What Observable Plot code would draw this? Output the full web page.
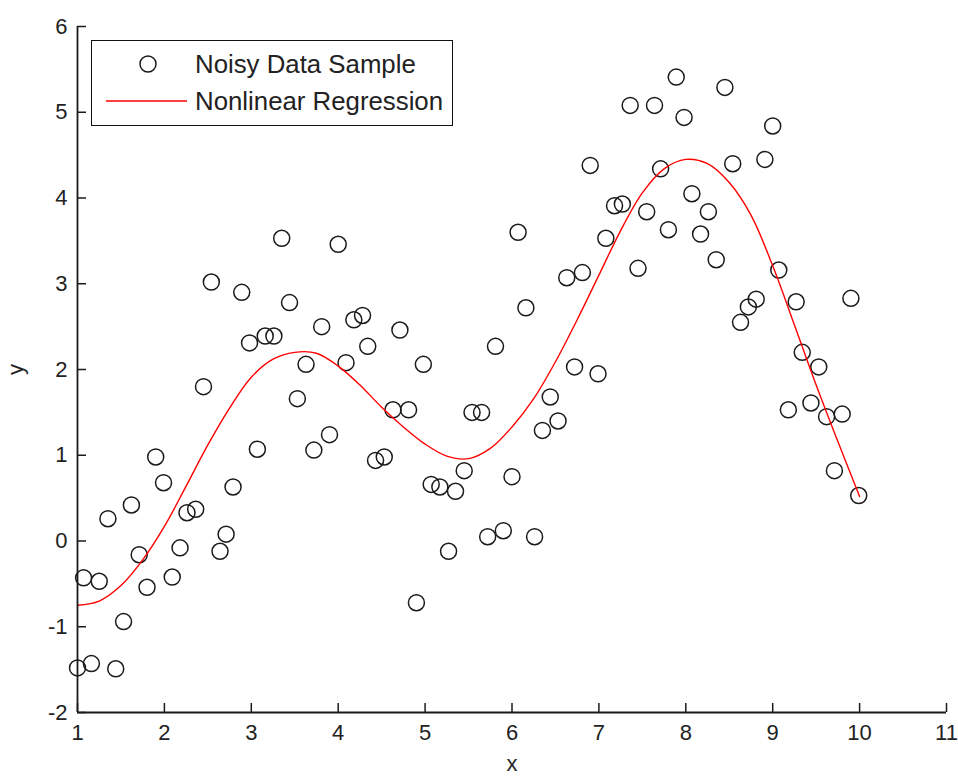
<!DOCTYPE html>
<html>
<head>
<meta charset="utf-8">
<script src="https://cdn.jsdelivr.net/npm/d3@7"></script>
<script src="https://cdn.jsdelivr.net/npm/@observablehq/plot@0.6"></script>
<style>
  html, body { margin: 0; padding: 0; background: #fff; }
  #wrap { position: relative; width: 958px; height: 778px; font-family: "Liberation Sans", Arial, sans-serif; }
  #legend { position: absolute; left: 91px; top: 40px; width: 360px; height: 84px; border: 1.5px solid #111; background: #fff; }
  #legend svg { position: absolute; left: 0; top: 0; }
  .lg { position: absolute; left: 103px; font-size: 25.8px; color: #222; line-height: 1; white-space: nowrap; }
</style>
</head>
<body>
<div id="wrap"></div>
<script>
// ---- data ----
const sampleX = [1.00,1.07,1.16,1.25,1.35,1.44,1.53,1.62,1.71,1.80,1.90,1.99,2.09,2.18,2.26,2.36,2.45,2.54,2.64,2.71,
  2.79,2.89,2.98,3.07,3.16,3.26,3.35,3.44,3.53,3.63,3.72,3.81,3.90,4.00,4.09,4.18,4.28,4.34,4.43,4.53,
  4.63,4.71,4.81,4.90,4.98,5.07,5.17,5.27,5.35,5.45,5.54,5.65,5.72,5.81,5.90,6.00,6.07,6.16,6.26,6.35,
  6.44,6.53,6.63,6.72,6.81,6.90,6.99,7.08,7.18,7.27,7.36,7.45,7.55,7.64,7.71,7.80,7.89,7.98,8.07,8.17,
  8.26,8.35,8.45,8.54,8.63,8.72,8.81,8.91,9.00,9.07,9.18,9.27,9.34,9.44,9.53,9.62,9.71,9.80,9.90,9.99];
const sampleY = [-1.48,-0.43,-1.43,-0.47,0.26,-1.49,-0.94,0.42,-0.16,-0.54,0.98,0.68,-0.42,-0.08,0.33,0.37,1.80,3.02,-0.12,0.08,
  0.63,2.90,2.31,1.07,2.39,2.39,3.53,2.78,1.66,2.06,1.06,2.50,1.24,3.46,2.08,2.58,2.63,2.27,0.94,0.98,
  1.53,2.46,1.53,-0.72,2.06,0.66,0.63,-0.12,0.58,0.82,1.50,1.50,0.05,2.27,0.12,0.75,3.60,2.72,0.05,1.29,
  1.68,1.40,3.07,2.03,3.13,4.38,1.95,3.53,3.91,3.93,5.08,3.18,3.84,5.08,4.34,3.63,5.41,4.94,4.05,3.58,
  3.84,3.28,5.29,4.40,2.55,2.73,2.82,4.45,4.84,3.16,1.53,2.79,2.20,1.61,2.03,1.45,0.82,1.48,2.83,0.53];
const fitX = [1.0,1.25,1.5,1.75,2.0,2.25,2.5,2.75,3.0,3.25,3.5,3.75,4.0,4.25,4.5,4.75,5.0,5.25,5.5,5.75,
  6.0,6.25,6.5,6.75,7.0,7.25,7.5,7.75,8.0,8.25,8.5,8.75,9.0,9.25,9.5,9.75,10.0];
const fitY = [-0.75,-0.70,-0.52,-0.22,0.17,0.64,1.12,1.55,1.91,2.12,2.20,2.19,2.04,1.82,1.56,1.33,1.13,0.99,0.96,1.08,
  1.33,1.66,2.09,2.58,3.10,3.62,4.06,4.34,4.45,4.40,4.18,3.80,3.21,2.52,1.82,1.16,0.52];
const xTicks = [1,2,3,4,5,6,7,8,9,10,11];
const yTicks = [-2,-1,0,1,2,3,4,5,6];
const legendLabels = ["Noisy Data Sample", "Nonlinear Regression"];

const samples = sampleX.map((x, i) => ({x, y: sampleY[i]}));
const fit = fitX.map((x, i) => ({x, y: fitY[i]}));

const W = 958, H = 778, mL = 77, mR = 12, mT = 26, mB = 66;
const frameW = W - mL - mR, frameH = H - mT - mB;
const ink = "#1a1a1a";

const chart = Plot.plot({
  width: W, height: H,
  marginLeft: mL, marginRight: mR, marginTop: mT, marginBottom: mB,
  style: {fontFamily: "'Liberation Sans', Arial, sans-serif", fontSize: "22px", color: "#222", background: "#fff"},
  x: {domain: [1, 11], ticks: xTicks, tickSize: 0, tickPadding: 12, tickFormat: d => String(d),
      label: "x", labelAnchor: "center", labelOffset: 58, labelArrow: "none"},
  y: {domain: [-2, 6], ticks: yTicks, tickSize: 0, tickPadding: 10, tickFormat: d => String(d),
      label: "y", labelAnchor: "center", labelOffset: 70, labelArrow: "none"},
  marks: [
    Plot.dot(samples, {x: "x", y: "y", r: 8, stroke: ink, strokeWidth: 1.5, fill: "none"}),
    Plot.line(fit, {x: "x", y: "y", stroke: "#ff0000", strokeWidth: 1.4, curve: "catmull-rom"}),
    Plot.tickX(xTicks, {x: d => d, insetTop: frameH - 9, stroke: ink, strokeWidth: 1.5}),
    Plot.tickY(yTicks, {y: d => d, insetRight: frameW - 9, stroke: ink, strokeWidth: 1.5}),
    Plot.ruleX([1], {stroke: ink, strokeWidth: 1.8}),
    Plot.ruleY([-2], {stroke: ink, strokeWidth: 1.8})
  ]
});
const wrap = document.getElementById("wrap");
wrap.appendChild(chart);

// legend (inside the axes, top-left)
const lg = document.createElement("div");
lg.id = "legend";
lg.innerHTML = `<svg width="360" height="84">
  <circle cx="56" cy="23" r="8" fill="none" stroke="${ink}" stroke-width="1.5"/>
  <line x1="14" x2="95" y1="60" y2="60" stroke="#ff0000" stroke-width="1.4"/>
</svg>
<div class="lg" style="top:11px">${legendLabels[0]}</div>
<div class="lg" style="top:48px">${legendLabels[1]}</div>`;
wrap.appendChild(lg);
</script>
</body>
</html>
